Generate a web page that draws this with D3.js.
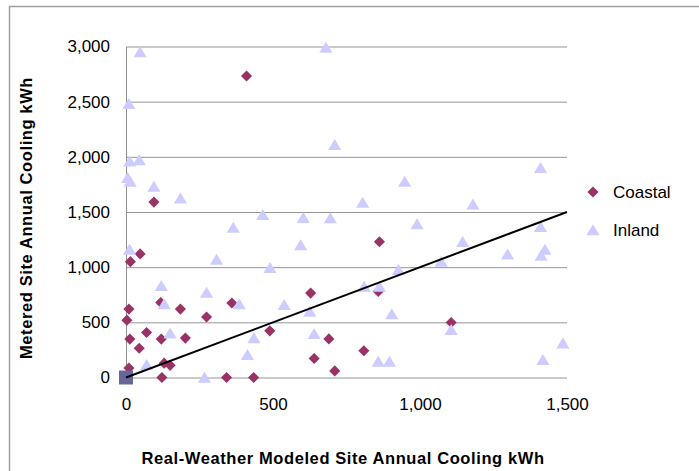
<!DOCTYPE html>
<html>
<head>
<meta charset="utf-8">
<script src="https://cdn.jsdelivr.net/npm/d3@7"></script>
<style>
  body { margin: 0; background: #fff; }
  svg { display: block; font-family: "Liberation Sans", Arial, sans-serif; }
</style>
</head>
<body>
<div id="chart"></div>
<script>
// values
var coastal = [
  [410,2733],[95,1590],[862,1230],[48,1120],[15,1050],[628,765],[858,780],
  [118,680],[360,675],[10,620],[185,620],[274,548],[3,520],[1106,498],
  [489,423],[70,408],[202,357],[13,348],[120,348],[690,350],[45,265],
  [809,242],[640,172],[130,130],[150,110],[10,85],[710,60],[122,0],
  [342,0],[434,0]
];
var inland = [
  [48,2950],[680,2990],[10,2480],[710,2110],[13,1960],[45,1970],[6,1810],
  [14,1775],[1410,1900],[948,1775],[95,1730],[185,1625],[805,1585],
  [1180,1570],[465,1475],[603,1448],[695,1445],[990,1390],[1410,1365],
  [365,1360],[1145,1230],[594,1200],[12,1160],[1425,1160],[1298,1117],
  [1412,1105],[308,1070],[1072,1050],[490,995],[927,975],[120,830],
  [810,825],[862,825],[274,770],[130,665],[385,665],[538,660],[625,598],
  [904,575],[1106,432],[150,400],[640,395],[435,357],[1486,311],[413,205],
  [1418,160],[858,145],[896,145],[70,115],[267,0]
];
var origin = [[0,0]];
var trend = [[0,0],[1500,1500]];
var xTicks = [0, 500, 1000, 1500];
var yTicks = [0, 500, 1000, 1500, 2000, 2500, 3000];
var seriesNames = ["Coastal", "Inland"];

var width = 699, height = 471;
var margin = {top: 46.5, left: 126, right: 135, bottom: 93.5};

var svg = d3.select("#chart").append("svg")
    .attr("width", width)
    .attr("height", height);

// chart frame (only left and top edges are inside the picture)
svg.append("rect")
    .attr("x", 9.5).attr("y", 6.5)
    .attr("width", 720).attr("height", 500)
    .attr("fill", "none")
    .attr("stroke", "#a0a0a0")
    .attr("stroke-width", 1.5);

var x = d3.scaleLinear().domain([0, 1500]).range([margin.left, width - margin.right + 3]);
var y = d3.scaleLinear().domain([0, 3000]).range([height - margin.bottom, margin.top]);

var fmt = d3.format(",");

// y axis with gridlines
var yAxis = svg.append("g")
    .attr("transform", "translate(" + margin.left + ",0)")
    .call(d3.axisLeft(y).tickValues(yTicks).tickFormat(fmt)
        .tickSizeInner(-(x(1500) - margin.left)).tickSizeOuter(0).tickPadding(16));
yAxis.select(".domain").attr("stroke", "#909090");
yAxis.selectAll(".tick line").attr("stroke", "#959595");
yAxis.selectAll(".tick text")
    .attr("font-size", 17).attr("fill", "#000")
    .attr("font-family", "Liberation Sans, Arial, sans-serif");

var xAxis = svg.append("g")
    .attr("transform", "translate(0," + y(0) + ")")
    .call(d3.axisBottom(x).tickValues(xTicks).tickFormat(fmt).tickSize(0).tickPadding(20));
xAxis.select(".domain").remove();
xAxis.selectAll(".tick text")
    .attr("font-size", 17).attr("fill", "#000")
    .attr("font-family", "Liberation Sans, Arial, sans-serif");

// markers
var diamond = d3.symbol().type(d3.symbolSquare).size(62);
var tri = {
  draw: function (ctx, size) {
    ctx.moveTo(0, -5.8);
    ctx.lineTo(6.6, 5.2);
    ctx.lineTo(-6.6, 5.2);
    ctx.closePath();
  }
};
var triangle = d3.symbol().type(tri);

svg.append("g").selectAll("path")
    .data(coastal)
  .join("path")
    .attr("d", diamond)
    .attr("transform", function (d) { return "translate(" + x(d[0]) + "," + y(d[1]) + ") rotate(45)"; })
    .attr("fill", "#993366");

svg.append("g").selectAll("path")
    .data(inland)
  .join("path")
    .attr("d", triangle)
    .attr("transform", function (d) { return "translate(" + x(d[0]) + "," + y(d[1]) + ")"; })
    .attr("fill", "#ccccff");

svg.append("g").selectAll("rect")
    .data(origin)
  .join("rect")
    .attr("x", function (d) { return x(d[0]) - 7; })
    .attr("y", function (d) { return y(d[1]) - 7; })
    .attr("width", 14).attr("height", 14)
    .attr("fill", "#666699");

// trend line
svg.append("path")
    .datum(trend)
    .attr("d", d3.line().x(function (d) { return x(d[0]); }).y(function (d) { return y(d[1]); }))
    .attr("fill", "none")
    .attr("stroke", "#000")
    .attr("stroke-width", 2);

// legend
var legend = svg.append("g").attr("transform", "translate(593,192)");
legend.append("path")
    .attr("d", diamond)
    .attr("transform", "rotate(45)")
    .attr("fill", "#993366");
legend.append("path")
    .attr("d", triangle)
    .attr("transform", "translate(0,38)")
    .attr("fill", "#ccccff");
legend.selectAll("text")
    .data(seriesNames)
  .join("text")
    .attr("x", 20)
    .attr("y", function (d, i) { return i * 38 + 6; })
    .attr("font-size", 17)
    .text(function (d) { return d; });

// axis titles
svg.append("text")
    .attr("x", 343).attr("y", 464)
    .attr("text-anchor", "middle")
    .attr("font-size", 16.5).attr("font-weight", "bold")
    .attr("letter-spacing", "0.6px")
    .text("Real-Weather Modeled Site Annual Cooling kWh");

svg.append("text")
    .attr("transform", "translate(32,218) rotate(-90)")
    .attr("text-anchor", "middle")
    .attr("font-size", 16.5).attr("font-weight", "bold")
    .attr("letter-spacing", "0.6px")
    .text("Metered Site Annual Cooling kWh");
</script>
</body>
</html>
